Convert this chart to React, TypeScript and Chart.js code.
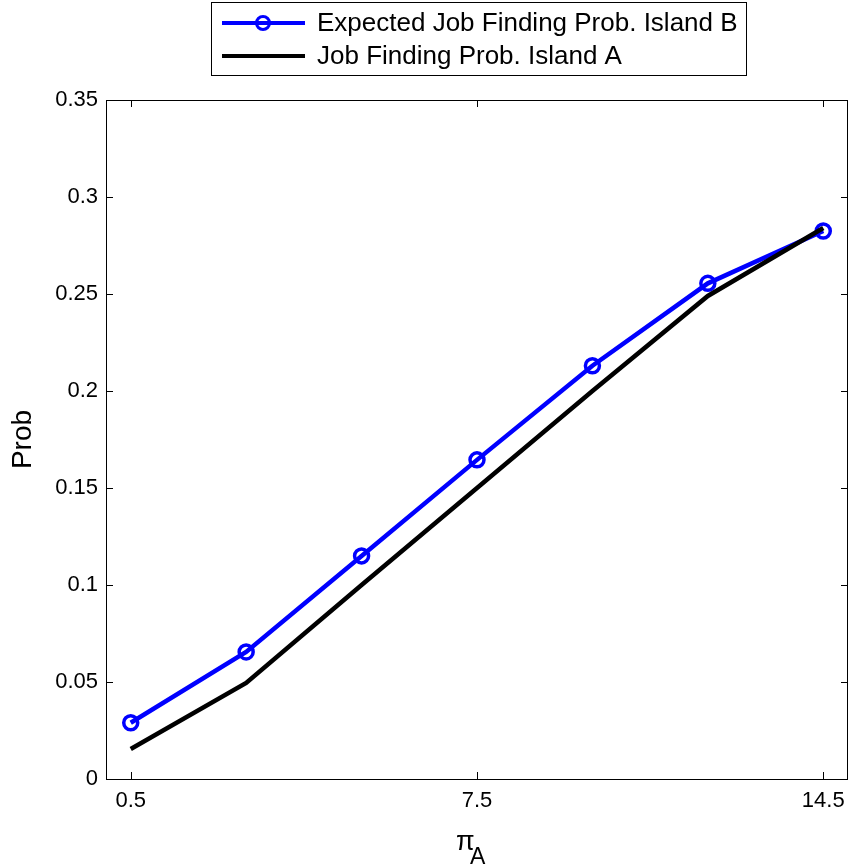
import React, { useEffect, useRef } from 'react';
import { Chart, registerables } from 'chart.js';

Chart.register(...registerables);

const piA = [0.5, 2.8333, 5.1667, 7.5, 9.8333, 12.1667, 14.5];
const expectedB = [0.029, 0.0655, 0.115, 0.1645, 0.213, 0.2555, 0.2825];
const islandA = [0.0155, 0.0495, 0.1, 0.15, 0.2, 0.249, 0.284];
const xTicks = [0.5, 7.5, 14.5];
const yTicks = [0, 0.05, 0.1, 0.15, 0.2, 0.25, 0.3, 0.35];
const seriesLabels = ['Expected Job Finding Prob. Island B', 'Job Finding Prob. Island A'];

const FONT = '"Liberation Sans", Arial, Helvetica, sans-serif';
const BLUE = '#0000ff';

const fmt = (v: number) => String(Number(v.toFixed(2)));

const matlabPlugin = {
  id: 'matlabDecor',
  afterDraw(chart: any) {
    const ctx = chart.ctx as CanvasRenderingContext2D;
    const a = chart.chartArea;
    const xs = chart.scales.x;
    const ys = chart.scales.y;
    ctx.save();
    // box
    ctx.strokeStyle = '#000';
    ctx.lineWidth = 1;
    ctx.strokeRect(Math.round(a.left) + 0.5, Math.round(a.top) + 0.5, Math.round(a.right - a.left) - 1, Math.round(a.bottom - a.top));
    // inward ticks
    const tl = 7;
    ctx.beginPath();
    yTicks.forEach((v) => {
      const y = Math.round(ys.getPixelForValue(v)) + 0.5;
      ctx.moveTo(a.left, y); ctx.lineTo(a.left + tl, y);
      ctx.moveTo(a.right, y); ctx.lineTo(a.right - tl, y);
    });
    xTicks.forEach((v) => {
      const x = Math.round(xs.getPixelForValue(v)) + 0.5;
      ctx.moveTo(x, a.bottom); ctx.lineTo(x, a.bottom - tl);
      ctx.moveTo(x, a.top); ctx.lineTo(x, a.top + tl);
    });
    ctx.stroke();

    // legend
    const lx = 211, ly = 2, lw = 535, lh = 73;
    ctx.fillStyle = '#fff';
    ctx.fillRect(lx, ly, lw, lh);
    ctx.strokeStyle = '#000';
    ctx.lineWidth = 1;
    ctx.strokeRect(lx + 0.5, ly + 0.5, lw, lh);
    const rows = [23, 56];
    ctx.font = `26px ${FONT}`;
    ctx.textBaseline = 'middle';
    ctx.textAlign = 'left';
    // row 1
    ctx.strokeStyle = BLUE;
    ctx.lineWidth = 4;
    ctx.beginPath(); ctx.moveTo(222, rows[0]); ctx.lineTo(305, rows[0]); ctx.stroke();
    ctx.lineWidth = 3;
    ctx.beginPath(); ctx.arc(263, rows[0], 6.5, 0, Math.PI * 2); ctx.stroke();
    ctx.fillStyle = '#000';
    ctx.fillText(seriesLabels[0], 317, rows[0] + 1);
    // row 2
    ctx.strokeStyle = '#000';
    ctx.lineWidth = 4;
    ctx.beginPath(); ctx.moveTo(222, rows[1]); ctx.lineTo(305, rows[1]); ctx.stroke();
    ctx.fillText(seriesLabels[1], 317, rows[1] + 1);

    // x title: pi with subscript A
    const cx = (a.left + a.right) / 2;
    ctx.textBaseline = 'alphabetic';
    ctx.font = `27px ${FONT}`;
    ctx.fillText('\u03c0', cx - 21, 850);
    ctx.font = `23px ${FONT}`;
    ctx.fillText('A', cx - 7, 864);
    ctx.restore();
  },
};

export default function App() {
  const ref = useRef<HTMLCanvasElement | null>(null);
  useEffect(() => {
    if (!ref.current) return;
    const chart = new Chart(ref.current, {
      type: 'line',
      data: {
        datasets: [
          {
            label: seriesLabels[0],
            data: piA.map((x, i) => ({ x, y: expectedB[i] })),
            borderColor: BLUE,
            borderWidth: 4.5,
            pointRadius: 7,
            pointBorderWidth: 3.5,
            pointBorderColor: BLUE,
            pointBackgroundColor: 'rgba(0,0,0,0)',
            tension: 0,
            order: 2,
          },
          {
            label: seriesLabels[1],
            data: piA.map((x, i) => ({ x, y: islandA[i] })),
            borderColor: '#000',
            borderWidth: 4.5,
            pointRadius: 0,
            tension: 0,
            order: 1,
          },
        ],
      },
      options: {
        responsive: false,
        animation: false,
        layout: { autoPadding: false, padding: { top: 100, right: 1, left: 0, bottom: 0 } },
        plugins: { legend: { display: false }, tooltip: { enabled: false } },
        scales: {
          x: {
            type: 'linear',
            min: 0,
            max: 15,
            afterBuildTicks: (s: any) => { s.ticks = xTicks.map((v) => ({ value: v })); },
            afterFit: (s: any) => { s.height = 88; s.paddingLeft = 0; s.paddingRight = 0; },
            grid: { display: false, drawTicks: false },
            border: { display: false },
            ticks: {
              padding: 9,
              color: '#000',
              font: { family: FONT, size: 22 },
              maxRotation: 0,
              autoSkip: false,
              callback: (v: any) => fmt(Number(v)),
            },
          },
          y: {
            type: 'linear',
            min: 0,
            max: 0.35,
            afterBuildTicks: (s: any) => { s.ticks = yTicks.map((v) => ({ value: v })); },
            afterFit: (s: any) => { s.width = 106; s.paddingTop = 0; s.paddingBottom = 0; },
            grid: { display: false, drawTicks: false },
            border: { display: false },
            title: {
              display: true,
              text: 'Prob',
              color: '#000',
              font: { family: FONT, size: 28 },
              padding: { top: 6, bottom: 0 },
            },
            ticks: {
              padding: 8,
              color: '#000',
              font: { family: FONT, size: 22 },
              autoSkip: false,
              callback: (v: any) => fmt(Number(v)),
            },
          },
        },
      },
      plugins: [matlabPlugin],
    });
    return () => chart.destroy();
  }, []);
  return (
    <div style={{ position: 'absolute', left: 0, top: 0, width: 849, height: 867, background: '#fff' }}>
      <canvas ref={ref} width={849} height={867} style={{ width: 849, height: 867, display: 'block' }} />
    </div>
  );
}
